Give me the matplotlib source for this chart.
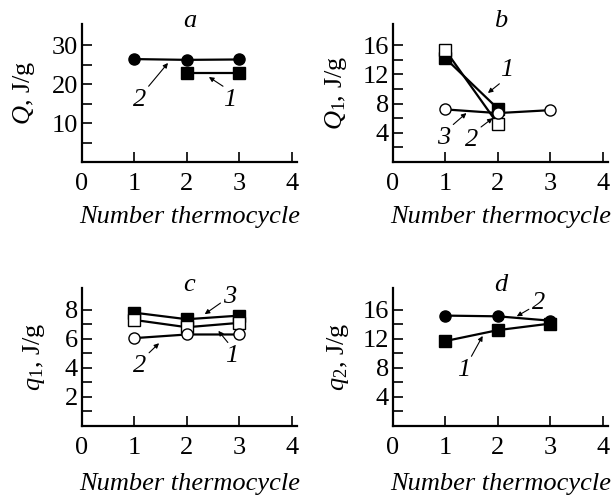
import matplotlib
matplotlib.use('Agg')
import matplotlib.pyplot as plt

plt.rcParams['font.family'] = 'Liberation Serif'
plt.rcParams['mathtext.fontset'] = 'custom'
plt.rcParams['mathtext.rm'] = 'Liberation Serif'
plt.rcParams['mathtext.it'] = 'Liberation Serif:italic'

# panel a: Q, J/g
a_x1 = [2, 3]
a_y1 = [22.8, 22.8]
a_x2 = [1, 2, 3]
a_y2 = [26.4, 26.2, 26.3]

# panel b: Q1, J/g
b_x = [1, 2]
b_y1 = [14.2, 7.3]
b_y2 = [15.3, 5.2]
b_x3 = [1, 2, 3]
b_y3 = [7.2, 6.7, 7.1]

# panel c: q1, J/g
c_x = [1, 2, 3]
c_y1 = [7.3, 6.8, 7.1]
c_y2 = [6.05, 6.3, 6.3]
c_y3 = [7.8, 7.35, 7.6]

# panel d: q2, J/g
d_x = [1, 2, 3]
d_y1 = [11.7, 13.2, 14.1]
d_y2 = [15.2, 15.1, 14.5]

fs = 19
W, H = 616, 496
fig = plt.figure(figsize=(6.16, 4.96), dpi=100)

def make_ax(left, bottom, ylim, yticks, yminor, ylabel, title, labx, xpad):
    ax = fig.add_axes([left / W, 1 - bottom / H, 215 / W, 138 / H])
    ax.set_xlim(0, 4.1)
    ax.set_ylim(0, ylim)
    ax.set_xticks([0, 1, 2, 3, 4])
    ax.set_yticks(yticks)
    ax.set_yticks(yminor, minor=True)
    for s in ['top', 'right']:
        ax.spines[s].set_visible(False)
    for s in ['left', 'bottom']:
        ax.spines[s].set_linewidth(1.6)
    ax.tick_params(direction='in', length=7, width=1.2, labelsize=fs)
    ax.tick_params(axis='x', pad=8)
    ax.tick_params(axis='y', pad=3)
    ax.tick_params(which='minor', direction='in', length=7, width=1.2)
    ax.set_ylabel(ylabel, fontsize=fs)
    ax.yaxis.set_label_coords(labx, 0.5)
    ax.set_xlabel('Number thermocycle', fontsize=fs, style='italic', labelpad=xpad)
    ax.text(0.5, 1.025, title, transform=ax.transAxes, fontsize=fs,
            style='italic', ha='center', va='center')
    return ax

def note(ax, text, xy, xytext, rel):
    ax.annotate(text, xy=xy, xytext=xytext, fontsize=fs, style='italic',
                ha='center', va='center',
                arrowprops=dict(arrowstyle='-|>', color='black', lw=0.8,
                                mutation_scale=7, shrinkA=0, shrinkB=0,
                                relpos=rel))

lw = 1.6
ms = 8

ax = make_ax(82, 162, 35.4, [10, 20, 30], [5, 15, 25], r'$Q$, J/g', 'a', -0.21, 8)
ax.plot(a_x2, a_y2, '-o', color='black', lw=lw, ms=ms)
ax.plot(a_x1, a_y1, '-s', color='black', lw=lw, ms=ms)
note(ax, '2', (1.64, 25.4), (1.1, 15.9), (1, 1))
note(ax, '1', (2.42, 21.8), (2.82, 15.9), (0.3, 1))

ax = make_ax(393, 162, 18.9, [4, 8, 12, 16], [2, 6, 10, 14], r'$Q_1$, J/g', 'b', -0.205, 8)
ax.plot(b_x, b_y1, '-s', color='black', lw=lw, ms=ms)
ax.plot(b_x, b_y2, '-s', color='black', mfc='white', lw=lw, ms=ms)
ax.plot(b_x3, b_y3, '-o', color='black', mfc='white', lw=lw, ms=ms)
note(ax, '1', (1.81, 9.45), (2.17, 12.6), (0.2, 0))
note(ax, '3', (1.40, 6.7), (0.97, 3.3), (1, 1))
note(ax, '2', (1.90, 6.0), (1.50, 3.0), (1, 1))

ax = make_ax(82, 426, 9.5, [2, 4, 6, 8], [1, 3, 5, 7], r'$q_1$, J/g', 'c', -0.165, 10)
ax.plot(c_x, c_y3, '-s', color='black', lw=lw, ms=ms)
ax.plot(c_x, c_y1, '-s', color='black', mfc='white', lw=lw, ms=ms)
ax.plot(c_x, c_y2, '-o', color='black', mfc='white', lw=lw, ms=ms)
note(ax, '3', (2.34, 7.7), (2.82, 8.9), (0, 0.3))
note(ax, '1', (2.6, 6.55), (2.85, 4.8), (0.4, 1))
note(ax, '2', (1.47, 5.7), (1.1, 4.1), (1, 1))

ax = make_ax(393, 426, 19, [4, 8, 12, 16], [2, 6, 10, 14], r'$q_2$, J/g', 'd', -0.195, 10)
ax.plot(d_x, d_y2, '-o', color='black', lw=lw, ms=ms)
ax.plot(d_x, d_y1, '-s', color='black', lw=lw, ms=ms)
note(ax, '2', (2.36, 15.1), (2.77, 16.9), (0, 0.3))
note(ax, '1', (1.71, 12.4), (1.34, 7.7), (1, 1))

fig.savefig('out.png', dpi=100)
